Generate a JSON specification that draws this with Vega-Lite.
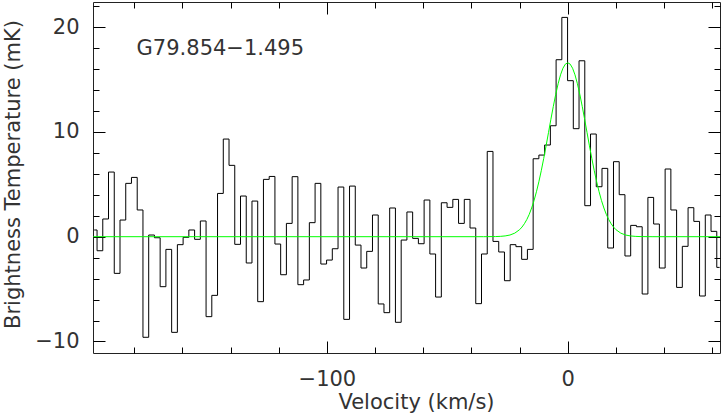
{
  "$schema": "https://vega.github.io/schema/vega-lite/v6.json",
  "width": 627,
  "height": 351,
  "autosize": {"type": "none"},
  "padding": {"left": 93, "top": 2, "right": 2, "bottom": 62},
  "background": "white",
  "config": {
    "view": {"stroke": "#222", "strokeWidth": 1},
    "axis": {
      "domain": false, "grid": false, "tickColor": "#000", "tickWidth": 1,
      "labelFont": "DejaVu Sans", "labelFontSize": 21, "labelColor": "#333",
      "titleFont": "DejaVu Sans", "titleFontSize": 21, "titleFontWeight": "normal", "titleColor": "#333",
      "labelOverlap": false, "labelFlush": false
    }
  },
  "datasets": {
    "spec": [
      {"v": -196.61, "T": 0.64}, {"v": -194.23, "T": -1.34}, {"v": -191.85, "T": 1.69}, {"v": -189.47, "T": 6.17},
      {"v": -187.08, "T": -3.5}, {"v": -184.70, "T": 1.59}, {"v": -182.32, "T": 5.09}, {"v": -179.94, "T": 5.66},
      {"v": -177.55, "T": 2.55}, {"v": -175.17, "T": -9.6}, {"v": -172.79, "T": 0.16}, {"v": -170.41, "T": -0.1},
      {"v": -168.03, "T": -4.77}, {"v": -165.64, "T": -1.21}, {"v": -163.26, "T": -9.13}, {"v": -160.88, "T": -0.76},
      {"v": -158.50, "T": -0.06}, {"v": -156.11, "T": 0.64}, {"v": -153.73, "T": -0.25}, {"v": -151.35, "T": 1.5},
      {"v": -148.97, "T": -7.63}, {"v": -146.59, "T": -5.6}, {"v": -144.20, "T": 4.13}, {"v": -141.82, "T": 9.32},
      {"v": -139.44, "T": 6.81}, {"v": -137.06, "T": -0.73}, {"v": -134.67, "T": 3.88}, {"v": -132.29, "T": -2.51},
      {"v": -129.91, "T": 3.4}, {"v": -127.53, "T": -6.2}, {"v": -125.15, "T": 5.47}, {"v": -122.76, "T": 5.75},
      {"v": -120.38, "T": -0.7}, {"v": -118.00, "T": -3.63}, {"v": -115.62, "T": 1.27}, {"v": -113.23, "T": 5.73},
      {"v": -110.85, "T": -4.58}, {"v": -108.47, "T": -4.13}, {"v": -106.09, "T": 1.34}, {"v": -103.71, "T": 5.09},
      {"v": -101.32, "T": -2.61}, {"v": -98.94, "T": -2.23}, {"v": -96.56, "T": -1.15}, {"v": -94.18, "T": 4.74},
      {"v": -91.79, "T": -7.89}, {"v": -89.41, "T": 4.83}, {"v": -87.03, "T": -0.8}, {"v": -84.65, "T": -2.99},
      {"v": -82.27, "T": -1.4}, {"v": -79.88, "T": 2.07}, {"v": -77.50, "T": -6.42}, {"v": -75.12, "T": -7.25},
      {"v": -72.74, "T": 2.74}, {"v": -70.35, "T": -8.17}, {"v": -67.97, "T": -0.32}, {"v": -65.59, "T": 2.36},
      {"v": -63.21, "T": -0.16}, {"v": -60.83, "T": -0.67}, {"v": -58.44, "T": 3.5}, {"v": -56.06, "T": -1.65},
      {"v": -53.68, "T": -5.76}, {"v": -51.30, "T": 3.24}, {"v": -48.91, "T": 2.8}, {"v": -46.53, "T": 3.56},
      {"v": -44.15, "T": 1.27}, {"v": -41.77, "T": 3.56}, {"v": -39.39, "T": 0.83}, {"v": -37.00, "T": -6.39},
      {"v": -34.62, "T": -1.65}, {"v": -32.24, "T": 8.14}, {"v": -29.86, "T": -0.45}, {"v": -27.47, "T": -1.46},
      {"v": -25.09, "T": -4.2}, {"v": -22.71, "T": -0.76}, {"v": -20.33, "T": -0.95}, {"v": -17.95, "T": -2.16},
      {"v": -15.56, "T": -1.21}, {"v": -13.18, "T": 7.44}, {"v": -10.80, "T": 7.79}, {"v": -8.42, "T": 8.75},
      {"v": -6.03, "T": 10.59}, {"v": -3.65, "T": 16.89}, {"v": -1.27, "T": 20.93}, {"v": 1.11, "T": 14.89},
      {"v": 3.49, "T": 10.31}, {"v": 5.87, "T": 16.79}, {"v": 8.26, "T": 2.96}, {"v": 10.64, "T": 9.8},
      {"v": 13.02, "T": 4.77}, {"v": 15.40, "T": 6.52}, {"v": 17.79, "T": -1.08}, {"v": 20.17, "T": 7.16},
      {"v": 22.55, "T": 4.01}, {"v": 24.93, "T": -1.84}, {"v": 27.31, "T": 1.08}, {"v": 29.70, "T": 0.95},
      {"v": 32.08, "T": -5.47}, {"v": 34.46, "T": 3.75}, {"v": 36.84, "T": 1.21}, {"v": 39.23, "T": -2.99},
      {"v": 41.61, "T": 6.46}, {"v": 43.99, "T": 2.55}, {"v": 46.37, "T": -4.84}, {"v": 48.75, "T": -0.92},
      {"v": 51.14, "T": 2.77}, {"v": 53.52, "T": 1.46}, {"v": 55.90, "T": -5.66}, {"v": 58.28, "T": 2.07},
      {"v": 60.67, "T": 0.51}, {"v": 63.05, "T": -2.93}
    ],
    "fit": [
      {"v": -197, "T": 0}, {"v": -35, "T": 0}, {"v": -30, "T": 0.012}, {"v": -28, "T": 0.031}, {"v": -26, "T": 0.074},
      {"v": -24, "T": 0.16}, {"v": -22, "T": 0.34}, {"v": -20, "T": 0.67}, {"v": -19, "T": 0.92}, {"v": -18, "T": 1.24},
      {"v": -17, "T": 1.64}, {"v": -16, "T": 2.13}, {"v": -15, "T": 2.74}, {"v": -14, "T": 3.45}, {"v": -13, "T": 4.29},
      {"v": -12, "T": 5.24}, {"v": -11, "T": 6.30}, {"v": -10, "T": 7.45}, {"v": -9, "T": 8.67}, {"v": -8, "T": 9.94},
      {"v": -7, "T": 11.21}, {"v": -6, "T": 12.44}, {"v": -5, "T": 13.59}, {"v": -4, "T": 14.60}, {"v": -3, "T": 15.45},
      {"v": -2, "T": 16.08}, {"v": -1, "T": 16.47}, {"v": 0, "T": 16.6}, {"v": 1, "T": 16.47}, {"v": 2, "T": 16.08},
      {"v": 3, "T": 15.45}, {"v": 4, "T": 14.60}, {"v": 5, "T": 13.59}, {"v": 6, "T": 12.44}, {"v": 7, "T": 11.21},
      {"v": 8, "T": 9.94}, {"v": 9, "T": 8.67}, {"v": 10, "T": 7.45}, {"v": 11, "T": 6.30}, {"v": 12, "T": 5.24},
      {"v": 13, "T": 4.29}, {"v": 14, "T": 3.45}, {"v": 15, "T": 2.74}, {"v": 16, "T": 2.13}, {"v": 17, "T": 1.64},
      {"v": 18, "T": 1.24}, {"v": 19, "T": 0.92}, {"v": 20, "T": 0.67}, {"v": 22, "T": 0.34}, {"v": 24, "T": 0.16},
      {"v": 26, "T": 0.074}, {"v": 28, "T": 0.031}, {"v": 30, "T": 0.012}, {"v": 35, "T": 0}, {"v": 63.2, "T": 0}
    ],
    "label": [{"v": -179, "T": 17.3, "name": "G79.854−1.495"}]
  },
  "layer": [
    {
      "data": {"name": "spec"},
      "mark": {"type": "line", "interpolate": "step", "color": "#000", "strokeWidth": 1, "clip": true},
      "encoding": {
        "x": {"field": "v", "type": "quantitative",
          "scale": {"domain": [-197.1, 63.2], "nice": false, "zero": false},
          "axis": {"orient": "bottom", "title": "Velocity (km/s)",
            "values": [-180, -160, -140, -120, -100, -80, -60, -40, -20, 0, 20, 40, 60],
            "tickSize": {"condition": {"test": "datum.value % 100 === 0", "value": -12}, "value": -6},
            "labelExpr": "datum.value % 100 === 0 ? datum.label : ''",
            "labelPadding": 27, "titleY": 55, "titleBaseline": "alphabetic", "titleX": 323}},
        "y": {"field": "T", "type": "quantitative",
          "scale": {"domain": [-11.1, 22.4], "nice": false, "zero": false},
          "axis": {"orient": "left", "title": "Brightness Temperature (mK)",
            "values": [-10, -8, -6, -4, -2, 0, 2, 4, 6, 8, 10, 12, 14, 16, 18, 20, 22],
            "tickSize": {"condition": {"test": "datum.value % 10 === 0", "value": -12}, "value": -6},
            "labelExpr": "datum.value % 10 === 0 ? datum.label : ''",
            "labelPadding": 26, "titleX": -74, "titleY": 172, "titleBaseline": "alphabetic"}}
      }
    },
    {
      "data": {"name": "fit"},
      "mark": {"type": "line", "color": "#00ff00", "strokeWidth": 1, "clip": true},
      "encoding": {
        "x": {"field": "v", "type": "quantitative",
          "axis": {"orient": "top", "title": null, "labels": false,
            "values": [-180, -160, -140, -120, -100, -80, -60, -40, -20, 0, 20, 40, 60],
            "tickSize": {"condition": {"test": "datum.value % 100 === 0", "value": -12}, "value": -6}}},
        "y": {"field": "T", "type": "quantitative",
          "axis": {"orient": "right", "title": null, "labels": false,
            "values": [-10, -8, -6, -4, -2, 0, 2, 4, 6, 8, 10, 12, 14, 16, 18, 20, 22],
            "tickSize": {"condition": {"test": "datum.value % 10 === 0", "value": -12}, "value": -6}}}
      }
    },
    {
      "data": {"name": "label"},
      "mark": {"type": "text", "align": "left", "baseline": "alphabetic", "font": "DejaVu Sans", "fontSize": 21, "color": "#333"},
      "encoding": {
        "x": {"field": "v", "type": "quantitative", "axis": null},
        "y": {"field": "T", "type": "quantitative", "axis": null},
        "text": {"field": "name"}
      }
    }
  ],
  "resolve": {"axis": {"x": "independent", "y": "independent"}}
}
